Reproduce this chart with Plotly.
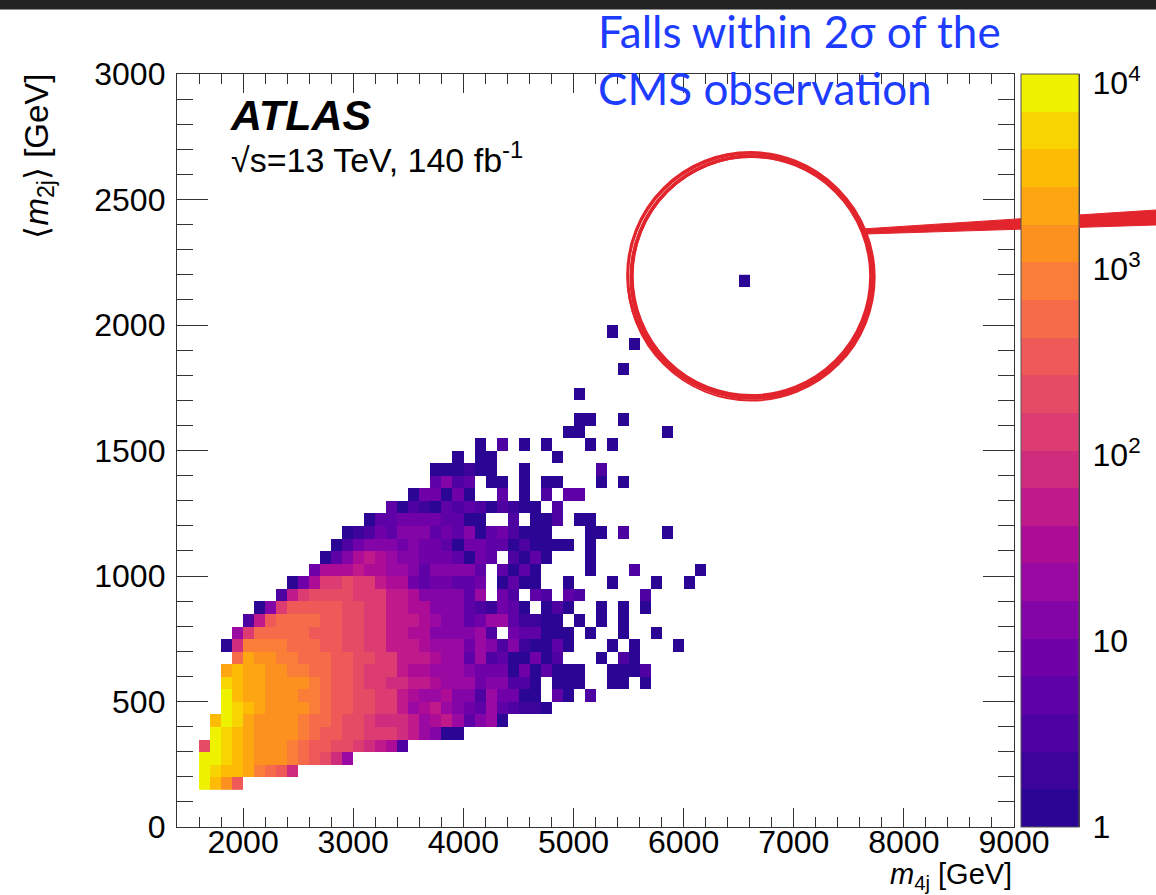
import numpy as np
import plotly.graph_objects as go

# ---------------- data ----------------
# 2D histogram: x bins of 100 GeV starting at 1600 GeV, y bins of 50 GeV starting at 150 GeV.
X_FIRST_BIN = 1600
X_BIN_WIDTH = 100
Y_FIRST_BIN = 150
Y_BIN_WIDTH = 50

# Colour band of every cell (row 0 = lowest <m2j> bin).
# '.' = empty bin, '0'..'9','a'..'j' = colour band 0..19 of the 20-band log colour scale.
BAND_ROWS = [
    "jhfc",
    "jihhg edc9",
    "jjihg fffed cb96",
    "bjihg fffed ccbba 9872",
    ".jihg ffffe dccbb aaa98 6500",
    ".hjig ffffe ddcbb a9998 67863 560",
    "..jih gffff edccb baa86 78654 36321 10",
    "..jhg gfffe edccb baa87 66755 26440 0.30. 2",
    "..ihg gffff edccb aa998 87666 45522 0.000 ..00. 0",
    "..ghg gffee ddccb aaa87 76665 44404 03000 ..000 2",
    "...dg ffeed ddccb baa88 87663 62300 402.. .0.20",
    "..09e eeedd dccbb aa888 76664 65251 0030. ..0.0 ...0",
    "...6a ddddd cccbb aa887 75555 62.43 3000. 0..0. .0",
    "....2 8cddd dccbb aa888 76553 46631 100.0 .0.0",
    "..... 05acc cccbb aa887 75553 21430 .020. .0.0. 0",
    "..... ..28a bbbba aa887 55553 6.42. 32.32 ..... 2",
    "..... ...04 7aaba a8774 34433 4.030 0..0. ..0.. .0..0",
    "..... ..... 47778 77665 35555 3.303 0.... 0...2 ..... 0",
    "..... ..... .0357 87655 44430 43.20 30... 0",
    "..... ..... ..024 55545 44304 43302 0000. 0",
    "..... ..... ...01 24355 53435 03420 00... 00.2. ..0",
    "..... ..... ..... 03344 44330 0..2. 002.0 0",
    "..... ..... ..... ..302 10323 20210 0.2",
    "..... ..... ..... ....0 44040 ..3.0 .2.33",
    "..... ..... ..... ..... .3523 .00.0 .00.. .0.0",
    "..... ..... ..... ..... .0001 00..0 ..... .2",
    "..... ..... ..... ..... ...0. 00... ..0",
    "..... ..... ..... ..... ..... 0.2.0 .0... 0.0",
    "..... ..... ..... ..... ..... ..... ...00 ..... ..0",
    "..... ..... ..... ..... ..... ..... ....0 0..0",
    "",
    "..... ..... ..... ..... ..... ..... ....0",
    "",
    "..... ..... ..... ..... ..... ..... ..... ...0",
    "",
    "..... ..... ..... ..... ..... ..... ..... ....0",
    "..... ..... ..... ..... ..... ..... ..... ..0",
    "",
    "",
    "",
    "..... ..... ..... ..... ..... ..... ..... ..... ..... ....0",
]
BAND_CODES = "0123456789abcdefghij"

# Colour scale: 20 bands spanning 1 .. ~1.1e4 entries (log scale)
Z_TOP = 4.048  # log10 of the top of the colour scale
PALETTE = [
    "#2b0594", "#3c049b", "#4d02a1", "#5e01a6", "#7000a8",
    "#8405a7", "#9a0aa2", "#ad0c97", "#c0198b", "#d02c7d",
    "#dc3c72", "#e64b66", "#ef5a58", "#f66b4a", "#fa7e38",
    "#fd9120", "#fea512", "#fdbb06", "#f8d402", "#eef200",
]
CBAR_TICKS = [1, 10, 100, 1000, 10000]
CBAR_TICKTEXT = ["1", "10", "10<sup>2</sup>", "10<sup>3</sup>", "10<sup>4</sup>"]
CBAR_MINOR = [m * 10 ** e for e in range(0, 4) for m in range(2, 10)]

X_TICKS = [2000, 3000, 4000, 5000, 6000, 7000, 8000, 9000]
Y_TICKS = [0, 500, 1000, 1500, 2000, 2500, 3000]

# ---------------- build the histogram ----------------
rows = [r.replace(" ", "") for r in BAND_ROWS]
n_x = max(len(r) for r in rows)
n_y = len(rows)
band_width = Z_TOP / len(PALETTE)
z = np.full((n_y, n_x), np.nan)
for j, r in enumerate(rows):
    for i, ch in enumerate(r):
        if ch != ".":
            k = BAND_CODES.index(ch)
            count = 10 ** ((k + 0.5) * band_width)
            z[j, i] = np.log10(count)

x_centers = X_FIRST_BIN + X_BIN_WIDTH * (np.arange(n_x) + 0.5)
y_centers = Y_FIRST_BIN + Y_BIN_WIDTH * (np.arange(n_y) + 0.5)

colorscale = []
nb = len(PALETTE)
for k, c in enumerate(PALETTE):
    colorscale.append([k / nb, c])
    colorscale.append([(k + 1) / nb, c])

# ---------------- geometry (pixels) ----------------
W, H = 1156, 895
L, R, T, B = 177, 77, 74, 68
plot_w = W - L - R            # 902 (includes colour bar)
plot_h = H - T - B            # 753
frame_right = 1014
cbar_left = 1021


def px_x(p):
    return (p - L) / plot_w


def px_y(p):
    return (H - B - p) / plot_h


FONT = "Liberation Sans, Arial, sans-serif"
TICKFONT = dict(family=FONT, size=32, color="black")

fig = go.Figure()
fig.add_trace(go.Heatmap(
    x=x_centers, y=y_centers, z=z,
    zmin=0, zmax=Z_TOP, colorscale=colorscale, zsmooth=False,
    hoverongaps=False, hoverinfo="skip",
    colorbar=dict(
        x=px_x(cbar_left), xanchor="left", xref="paper",
        y=0.5, yanchor="middle", len=1, lenmode="fraction",
        thickness=1079 - cbar_left, thicknessmode="pixels",
        xpad=0, ypad=0, outlinewidth=1, outlinecolor="#555",
        ticks="", showticklabels=False,
    ),
))
# carrier for the colour-bar axis (no visible marks)
fig.add_trace(go.Scatter(x=[None], y=[None], yaxis="y2", showlegend=False,
                         hoverinfo="skip", mode="markers"))

fig.update_layout(
    width=W, height=H,
    margin=dict(l=L, r=R, t=T, b=B, autoexpand=False),
    paper_bgcolor="white", plot_bgcolor="white",
    showlegend=False,
    xaxis=dict(
        domain=[0, (frame_right - L) / plot_w], range=[1400, 9000],
        tickmode="array", tickvals=X_TICKS, ticks="inside", ticklen=19,
        tickwidth=1.2, tickcolor="#333",
        minor=dict(dtick=200, tick0=1400, ticks="inside", ticklen=10,
                   tickwidth=1.2, tickcolor="#333"),
        showline=True, linecolor="#333", linewidth=1.3, mirror="ticks",
        showgrid=False, zeroline=False, tickfont=TICKFONT,
        ticklabelstandoff=-14,
    ),
    yaxis=dict(
        range=[0, 3000], tickmode="array", tickvals=Y_TICKS,
        ticks="inside", ticklen=31, tickwidth=1.2, tickcolor="#333",
        minor=dict(dtick=100, tick0=0, ticks="inside", ticklen=16,
                   tickwidth=1.2, tickcolor="#333"),
        showline=True, linecolor="#333", linewidth=1.3, mirror="ticks",
        showgrid=False, zeroline=False, tickfont=TICKFONT,
        ticklabelstandoff=4,
    ),
    yaxis2=dict(
        overlaying="y", anchor="free", position=1.0, side="right",
        type="log", range=[0, Z_TOP],
        tickmode="array", tickvals=CBAR_TICKS, ticktext=CBAR_TICKTEXT,
        ticks="inside", ticklen=31, tickwidth=1.2, tickcolor="#222",
        minor=dict(tickmode="array", tickvals=CBAR_MINOR, ticks="inside",
                   ticklen=16, tickwidth=1.2, tickcolor="#222"),
        showline=True, linecolor="#333", linewidth=1.3,
        showgrid=False, zeroline=False, tickfont=TICKFONT,
        ticklabelstandoff=6,
    ),
)

annotations = [
    dict(text="<b><i>ATLAS</i></b>", x=px_x(228), y=px_y(115), xref="paper", yref="paper",
         xanchor="left", yanchor="middle", showarrow=False,
         font=dict(family=FONT, size=43, color="black")),
    dict(text="\u221As=13 TeV, 140 fb<sup>-1</sup>", x=px_x(229), y=px_y(157),
         xref="paper", yref="paper", xanchor="left", yanchor="middle", showarrow=False,
         font=dict(family=FONT, size=34, color="black")),
    dict(text="Falls within 2\u03c3 of the", x=px_x(596), y=px_y(31),
         xref="paper", yref="paper", xanchor="left", yanchor="middle", showarrow=False,
         font=dict(family="Lato, sans-serif", size=44, color="#1d3cff")),
    dict(text="CMS observation", x=px_x(596), y=px_y(88),
         xref="paper", yref="paper", xanchor="left", yanchor="middle", showarrow=False,
         font=dict(family="Lato, sans-serif", size=44, color="#1d3cff")),
    dict(text="\u27e8<i>m</i><sub>2j</sub>\u27e9 [GeV]", x=px_x(38), y=px_y(72),
         xref="paper", yref="paper", xanchor="center", yanchor="top", textangle=-90,
         showarrow=False, font=dict(family=FONT, size=33, color="black")),
    dict(text="<i>m</i><sub>4j</sub> [GeV]", x=px_x(frame_right), y=px_y(876),
         xref="paper", yref="paper", xanchor="right", yanchor="middle",
         showarrow=False, font=dict(family=FONT, size=29, color="black")),
]
fig.update_layout(annotations=annotations)

# decorations: dark strip at the very top, hand-drawn red circle and pointer line
RED = "#e2252d"
shapes = [
    dict(type="rect", xref="paper", yref="paper",
         x0=px_x(0), x1=px_x(W), y0=px_y(9.5), y1=px_y(0),
         fillcolor="#232323", line=dict(width=0), layer="above"),
]
iso_x = X_FIRST_BIN + X_BIN_WIDTH * 49.5
iso_y = Y_FIRST_BIN + Y_BIN_WIDTH * 40.5
for (dx, dy, r, w) in [(7, 5, 119.5, 3), (8, 4, 121, 3.5), (6, 6, 122.5, 3),
                       (9, 5, 120.5, 2), (7, 4, 123.5, 2)]:
    shapes.append(dict(type="circle", xref="x", yref="y",
                       xsizemode="pixel", ysizemode="pixel",
                       xanchor=iso_x, yanchor=iso_y,
                       x0=dx - r, x1=dx + r, y0=dy - r, y1=dy + r,
                       line=dict(color=RED, width=w), layer="above"))
pts = [(862, 229), (1156, 210), (1156, 225), (866, 234)]
path = "M " + " L ".join(f"{px_x(a):.5f},{px_y(b):.5f}" for a, b in pts) + " Z"
shapes.append(dict(type="path", xref="paper", yref="paper", path=path,
                   fillcolor=RED, line=dict(color=RED, width=1), layer="above"))
fig.update_layout(shapes=shapes)

fig.write_html("out.html")
